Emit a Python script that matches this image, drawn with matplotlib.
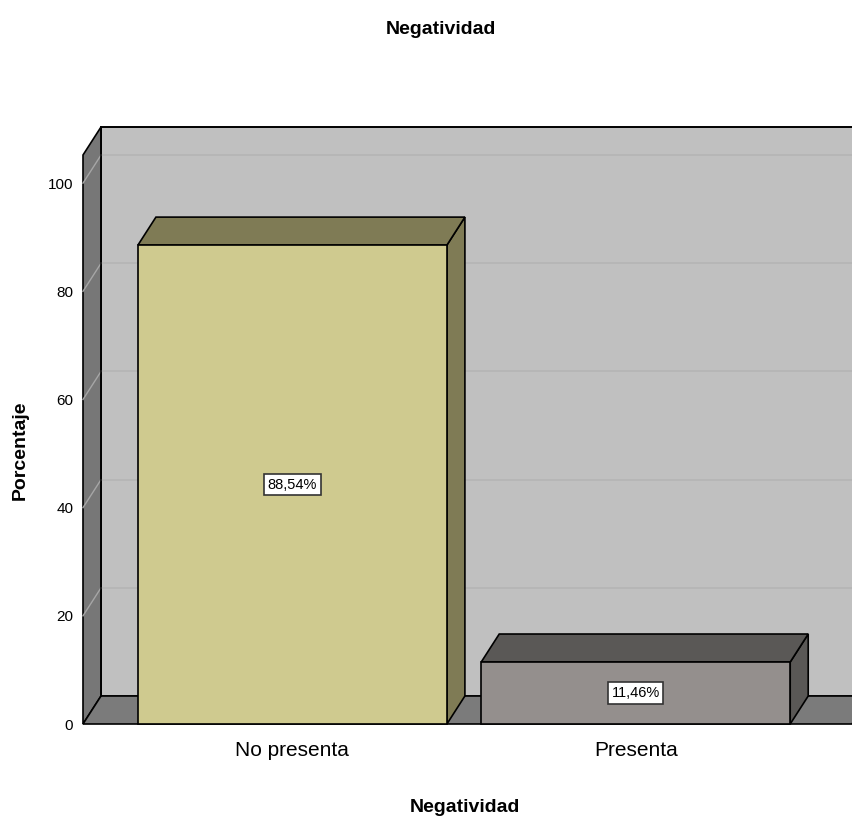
import matplotlib
matplotlib.use('Agg')
import matplotlib.pyplot as plt
from matplotlib.patches import Polygon
from matplotlib import font_manager

categories = ["No presenta", "Presenta"]
porcentajes = [88.54, 11.46]
etiquetas = ["88,54%", "11,46%"]
yticks = [0, 20, 40, 60, 80, 100]

names = {f.name for f in font_manager.fontManager.ttflist}
fam = ['Liberation Sans Narrow', 'DejaVu Sans'] if 'Liberation Sans Narrow' in names else ['Liberation Sans', 'DejaVu Sans']
plt.rcParams['font.family'] = fam

W, H = 852, 825
fig = plt.figure(figsize=(W / 100, H / 100), dpi=100)
# front plane of the 3d box, in pixels
x0, x1, yb, yt = 83, 852, 724, 155
ax = fig.add_axes([x0 / W, (H - yb) / H, (x1 - x0) / W, (yb - yt) / H])
ymax = 105.2
xlo, xhi = -0.61, 1.63
ax.set_xlim(xlo, xhi)
ax.set_ylim(0, ymax)

# depth offset in data units
px_x = (xhi - xlo) / (x1 - x0)
px_y = ymax / (yb - yt)
dx = 18 * px_x
dy = 28 * px_y

def poly(pts, fc, ec='black', lw=1.2, z=1):
    p = Polygon(pts, closed=True, facecolor=fc, edgecolor=ec, linewidth=lw,
                clip_on=False, zorder=z, joinstyle='miter')
    ax.add_patch(p)

xr = xhi + 0.2
# back wall
poly([(xlo + dx, dy), (xr, dy), (xr, ymax + dy), (xlo + dx, ymax + dy)], '#c0c0c0', z=1)
# left wall
poly([(xlo, 0), (xlo + dx, dy), (xlo + dx, ymax + dy), (xlo, ymax)], '#777777', z=1)
# floor
poly([(xlo, 0), (xhi, 0), (xhi + dx, dy), (xlo + dx, dy)], '#7b7b7b', z=1)

# grid lines on back wall and left wall
for t in yticks[1:]:
    ax.plot([xlo + dx, xr], [t + dy, t + dy], color='#b4b4b4', lw=1.2, zorder=2, clip_on=False)
    ax.plot([xlo, xlo + dx], [t, t + dy], color='#a6a6a6', lw=1.0, zorder=2, clip_on=False)
# redraw the wall edges on top of grid
ax.plot([xlo + dx, xlo + dx], [dy, ymax + dy], color='black', lw=1.2, zorder=2.5, clip_on=False)
ax.plot([xlo + dx, xr], [ymax + dy, ymax + dy], color='black', lw=1.2, zorder=2.5, clip_on=False)

front = ['#cfca8f', '#948f8d']
dark = ['#7f7b55', '#5a5856']
bw = 0.9
for i, (v, lab) in enumerate(zip(porcentajes, etiquetas)):
    l, r = i - bw / 2, i + bw / 2
    poly([(r, 0), (r + dx, dy), (r + dx, v + dy), (r, v)], dark[i], z=3)
    poly([(l, v), (r, v), (r + dx, v + dy), (l + dx, v + dy)], dark[i], z=3)
    poly([(l, 0), (r, 0), (r, v), (l, v)], front[i], z=4)
    ax.text(i, v / 2, lab, ha='center', va='center', fontsize=10.5, zorder=5,
            bbox=dict(boxstyle='square,pad=0.25', facecolor='white', edgecolor='#333333', linewidth=1.2))

ax.set_yticks(yticks)
ax.set_yticklabels([str(t) for t in yticks], fontsize=11)
ax.set_xticks(range(len(categories)))
ax.set_xticklabels(categories, fontsize=15)
ax.tick_params(axis='y', length=0, pad=7)
ax.tick_params(axis='x', length=0, pad=12)
for s in ax.spines.values():
    s.set_visible(False)
ax.patch.set_visible(False)

fig.text(441 / W, 1 - 30 / H, "Negatividad", ha='center', va='center', fontsize=14, fontweight='bold')
fig.text(465 / W, 1 - 808 / H, "Negatividad", ha='center', va='center', fontsize=14, fontweight='bold')
fig.text(20 / W, 1 - 450 / H, "Porcentaje", ha='center', va='center', fontsize=14, fontweight='bold', rotation=90)

fig.savefig('out.png', dpi=100)
